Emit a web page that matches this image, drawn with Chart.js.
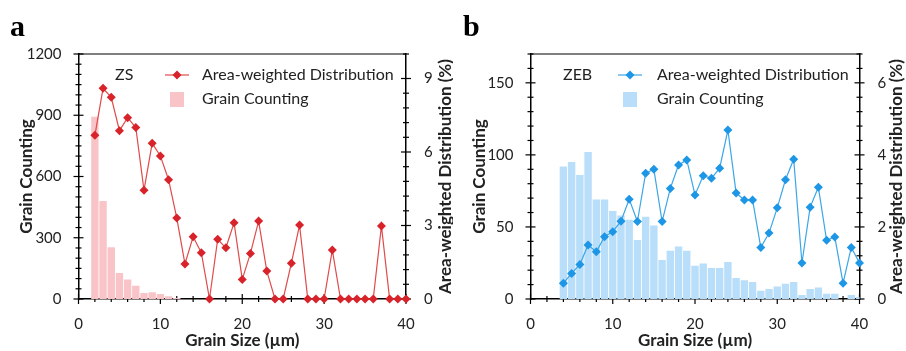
<!DOCTYPE html>
<html lang="en">
<head>
<meta charset="UTF-8">
<title>Grain size distribution</title>
<script src="https://cdn.jsdelivr.net/npm/chart.js"></script>
<style>
  body { margin: 0; background: #fff; }
  .panel { position: absolute; top: 0; width: 453px; height: 351px; }
  #wrapA { left: 0; }
  #wrapB { left: 453px; }
</style>
</head>
<body>
<div class="panel" id="wrapA"><canvas id="chartA" width="453" height="351"></canvas></div>
<div class="panel" id="wrapB"><canvas id="chartB" width="453" height="351"></canvas></div>
<script>
// panel a (ZS)
const sizesA = [2,3,4,5,6,7,8,9,10,11,12,13,14,15,16,17,18,19,20,21,22,23,24,25,26,27,28,29,30,31,32,33,34,35,36,37,38,39,40];
const areaA  = [6.68,8.6,8.23,6.87,7.4,7.0,4.44,6.36,5.84,4.87,3.31,1.43,2.54,1.89,0,2.44,2.09,3.11,0.8,1.86,3.18,1.14,0,0,1.46,3.02,0,0,0,2.0,0,0,0,0,0,2.98,0,0,0];
const barSizesA = [2,3,4,5,6,7,8,9,10,11,12];
const countsA   = [893,480,253,127,96,65,29,33,24,13,5];

// panel b (ZEB)
const sizesB = [4,5,6,7,8,9,10,11,12,13,14,15,16,17,18,19,20,21,22,23,24,25,26,27,28,29,30,31,32,33,34,35,36,37,38,39,40];
const areaB  = [0.44,0.71,0.96,1.5,1.31,1.73,1.87,2.16,2.77,2.15,3.49,3.6,2.15,3.07,3.72,3.86,2.89,3.42,3.35,3.63,4.69,2.94,2.75,2.75,1.43,1.83,2.53,3.31,3.88,1.0,2.55,3.1,1.63,1.72,0.44,1.43,1.0];
const countsB = [92,95,86,102,69,69,61,58,55,41,57,51,27,33.5,36.5,33.5,23,24.7,21.5,21.5,25.7,14.6,13,11.8,5.8,6.9,8.6,10.6,11.8,2.8,6.9,7.9,3.7,3.7,0,2.8,1.4];

const FONT = 'Lato, "Open Sans", sans-serif';
const TXT = '#222';

function makeChart(canvasId, opt) {
  const panelPlugin = {
    id: 'panelDeco',
    beforeDatasetsDraw(chart) {
      const ctx = chart.ctx, a = chart.chartArea;
      ctx.save();
      ctx.strokeStyle = '#000';
      ctx.lineWidth = 1.2;
      // top frame line
      ctx.beginPath(); ctx.moveTo(a.left, a.top); ctx.lineTo(a.right, a.top); ctx.stroke();
      // tick marks crossing the axes
      ['x', 'y', 'y1'].forEach(id => {
        const s = chart.scales[id];
        s.ticks.forEach(t => {
          const len = t.label !== '' ? 5 : 3;
          const p = s.getPixelForValue(t.value);
          ctx.beginPath();
          if (id === 'x') { ctx.moveTo(p, a.bottom - len); ctx.lineTo(p, a.bottom + len); }
          else if (id === 'y') { ctx.moveTo(a.left - len, p); ctx.lineTo(a.left + len, p); }
          else { ctx.moveTo(a.right - len, p); ctx.lineTo(a.right + len, p); }
          ctx.stroke();
        });
      });
      ctx.restore();
    },
    afterDraw(chart) {
      const ctx = chart.ctx, a = chart.chartArea;
      ctx.save();
      // panel letter
      ctx.fillStyle = '#000';
      ctx.font = 'bold 30px "Liberation Serif", serif';
      ctx.textBaseline = 'alphabetic';
      ctx.fillText(opt.letter, 10, 36);
      // right axis title (reads bottom to top)
      ctx.font = 'bold 17px ' + FONT;
      ctx.fillStyle = TXT;
      ctx.translate(opt.rightTitleX, (a.top + a.bottom) / 2);
      ctx.rotate(-Math.PI / 2);
      ctx.textAlign = 'center';
      ctx.textBaseline = 'middle';
      ctx.fillText('Area-weighted Distribution (%)', 0, 0);
      ctx.restore();

      // legend
      const L = opt.legend;
      ctx.save();
      ctx.font = '16px ' + FONT;
      ctx.fillStyle = TXT;
      ctx.textBaseline = 'middle';
      ctx.fillText(opt.name, L.nameX, 75);
      ctx.fillText('Area-weighted Distribution', L.textX, 75);
      ctx.fillText('Grain Counting', L.textX, 99);
      ctx.strokeStyle = opt.lineColor;
      ctx.lineWidth = 1.2;
      ctx.beginPath(); ctx.moveTo(L.symX - 12, 75); ctx.lineTo(L.symX + 12, 75); ctx.stroke();
      ctx.fillStyle = opt.pointColor;
      ctx.beginPath();
      ctx.moveTo(L.symX, 70.5); ctx.lineTo(L.symX + 4.5, 75); ctx.lineTo(L.symX, 79.5); ctx.lineTo(L.symX - 4.5, 75);
      ctx.closePath(); ctx.fill();
      ctx.fillStyle = opt.barColor;
      ctx.fillRect(L.symX - 7, 92, 14, 15);
      ctx.restore();
    }
  };

  const tickFont = { family: FONT, size: 15 };
  const titleFont = { family: FONT, size: 17, weight: 'bold' };

  return new Chart(document.getElementById(canvasId), {
    data: {
      datasets: [
        {
          type: 'line',
          label: 'Area-weighted Distribution',
          data: opt.sizes.map((x, i) => ({ x: x, y: opt.area[i] })),
          yAxisID: 'y1',
          borderColor: opt.lineColor,
          borderWidth: 1.2,
          pointStyle: 'rectRot',
          pointRadius: 4.5,
          pointBackgroundColor: opt.pointColor,
          pointBorderColor: opt.pointColor,
          pointBorderWidth: 0,
          tension: 0,
          clip: false,
          order: 1
        },
        {
          type: 'bar',
          label: 'Grain Counting',
          data: opt.barSizes.map((x, i) => ({ x: x, y: opt.counts[i] })),
          yAxisID: 'y',
          backgroundColor: opt.barColor,
          borderWidth: 0,
          barPercentage: 0.9,
          categoryPercentage: 1.0,
          order: 2
        }
      ]
    },
    options: {
      responsive: false,
      animation: false,
      layout: { padding: { top: 54, left: 0, right: 0, bottom: 0 } },
      plugins: { legend: { display: false }, tooltip: { enabled: false } },
      scales: {
        x: {
          type: 'linear', min: 0, max: 40, offset: false,
          ticks: {
            stepSize: 2, autoSkip: false, maxRotation: 0, padding: 8,
            font: tickFont, color: TXT,
            callback: v => (v % 10 === 0 ? v : '')
          },
          grid: { display: false, offset: false },
          border: { color: '#000', width: 1.5 },
          title: { display: true, text: 'Grain Size (µm)', font: titleFont, color: TXT, padding: 0 },
          afterFit: s => { s.height = 52; }
        },
        y: {
          position: 'left', min: 0, max: opt.yMax,
          ticks: {
            stepSize: opt.yStep, autoSkip: false, padding: 9,
            font: tickFont, color: TXT,
            callback: v => (Math.abs(v % opt.yMajor) < 1e-6 ? v : '')
          },
          grid: { display: false },
          border: { color: '#000', width: 1.5 },
          title: { display: true, text: 'Grain Counting', font: titleFont, color: TXT, padding: { top: 16 } },
          afterFit: s => { s.width = opt.leftW; }
        },
        y1: {
          position: 'right', min: 0, max: opt.y1Max,
          ticks: {
            stepSize: opt.y1Step, autoSkip: false, padding: 10,
            font: tickFont, color: TXT,
            callback: v => {
              const r = Math.abs(v % opt.y1Major);
              return (r < 1e-6 || Math.abs(r - opt.y1Major) < 1e-6) ? Math.round(v) : '';
            }
          },
          grid: { display: false },
          border: { color: '#000', width: 1.5 },
          afterFit: s => { s.width = opt.rightW; }
        }
      }
    },
    plugins: [panelPlugin]
  });
}

makeChart('chartA', {
  letter: 'a', name: 'ZS',
  sizes: sizesA, area: areaA, barSizes: barSizesA, counts: countsA,
  lineColor: '#e04a4a', pointColor: '#d8232a', barColor: '#f9c4c8',
  yMax: 1200, yStep: 50, yMajor: 300,
  y1Max: 10, y1Step: 0.6, y1Major: 3,
  leftW: 78.5, rightW: 47, rightTitleX: 446,
  legend: { nameX: 115, symX: 177, textX: 202 }
});

makeChart('chartB', {
  letter: 'b', name: 'ZEB',
  sizes: sizesB, area: areaB, barSizes: sizesB, counts: countsB,
  lineColor: '#3aa6e8', pointColor: '#1e96e6', barColor: '#b9defa',
  yMax: 170, yStep: 10, yMajor: 50,
  y1Max: 6.8, y1Step: 0.4, y1Major: 2,
  leftW: 77.5, rightW: 46.5, rightTitleX: 444,
  legend: { nameX: 110, symX: 177, textX: 204 }
});
</script>
</body>
</html>
